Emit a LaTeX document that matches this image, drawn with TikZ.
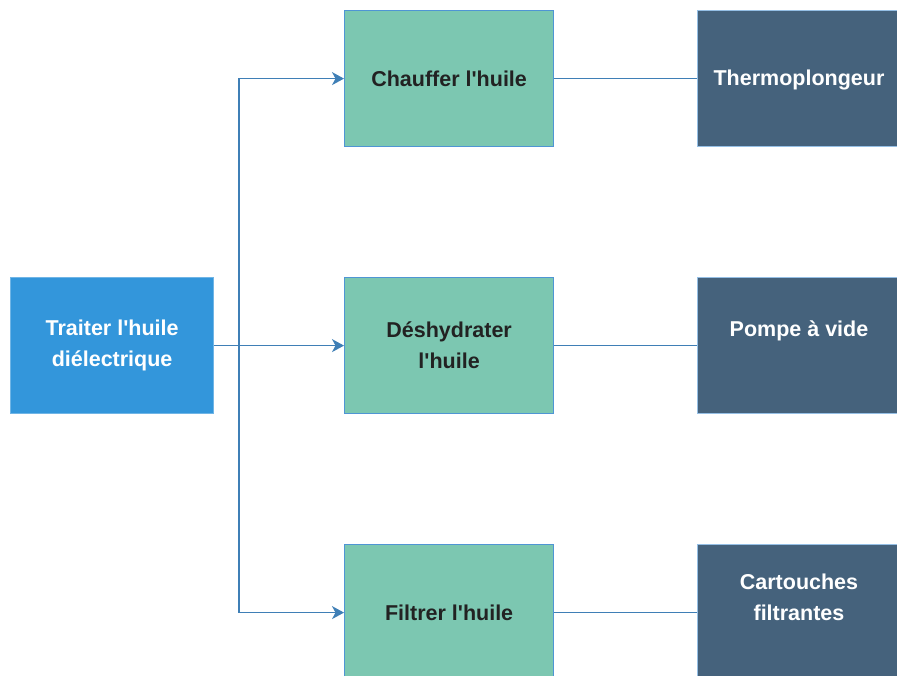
\documentclass[tikz,border=0pt]{standalone}
\usepackage{fontspec}
\setmainfont{Liberation Sans}[Ligatures=TeXOff]
\usetikzlibrary{arrows.meta}
\definecolor{rootblue}{HTML}{3396DB}
\definecolor{midgreen}{HTML}{7CC7B1}
\definecolor{darkslate}{HTML}{45627C}
\definecolor{edgeblue}{HTML}{4F95D4}
\definecolor{linkblue}{HTML}{3F7FB6}
\definecolor{txtdark}{HTML}{222222}
\tikzset{
  x=1pt,y=-1pt,
  box/.style={draw=edgeblue,line width=1.2pt,minimum width=209pt,minimum height=136pt,anchor=north west,inner sep=0pt,align=center,font=\bfseries\fontsize{21.5}{31}\selectfont},
  rootbox/.style={box,fill=rootblue,draw=rootblue!70!white,minimum width=203pt,text=white},
  taskbox/.style={box,fill=midgreen,text=txtdark},
  toolbox/.style={box,fill=darkslate,draw=edgeblue!60!white,minimum width=210pt,text=white},
  lbl/.style={inner sep=0pt,align=center,text=white,font=\bfseries\fontsize{21.5}{31}\selectfont},
  link/.style={draw=linkblue,line width=1.6pt},
  arr/.style={link,-{Stealth[length=12pt,width=13pt,inset=3.5pt]}}
}
\begin{document}
\begin{tikzpicture}
\useasboundingbox (0,0) rectangle (897,675);
\clip (0,0) rectangle (897,675);
\node[rootbox] (root) at (10,277) {Traiter l'huile\\diélectrique};
\node[taskbox] (t1) at (344,10) {Chauffer l'huile};
\node[taskbox] (t2) at (344,277) {Déshydrater\\l'huile};
\node[taskbox] (t3) at (344,544) {Filtrer l'huile};
\node[toolbox] (o1) at (697,10) {};
\node[toolbox] (o2) at (697,277) {};
\node[toolbox] (o3) at (697,544) {};
\node[lbl] (o1t) at (799,80) {Thermoplongeur};
\node[lbl] (o2t) at (799,331) {Pompe à vide};
\node[lbl] (o3t) at (799,597) {Cartouches\\filtrantes};
\path (root.east) ++(25,0) coordinate (j);
\draw[link] (root.east) -- (j);
\draw[arr] (j) |- (t1.west);
\draw[arr] (j) -- (t2.west);
\draw[arr] (j) |- (t3.west);
\draw[link] (t1.east) -- (o1.west);
\draw[link] (t2.east) -- (o2.west);
\draw[link] (t3.east) -- (o3.west);
\end{tikzpicture}
\end{document}
